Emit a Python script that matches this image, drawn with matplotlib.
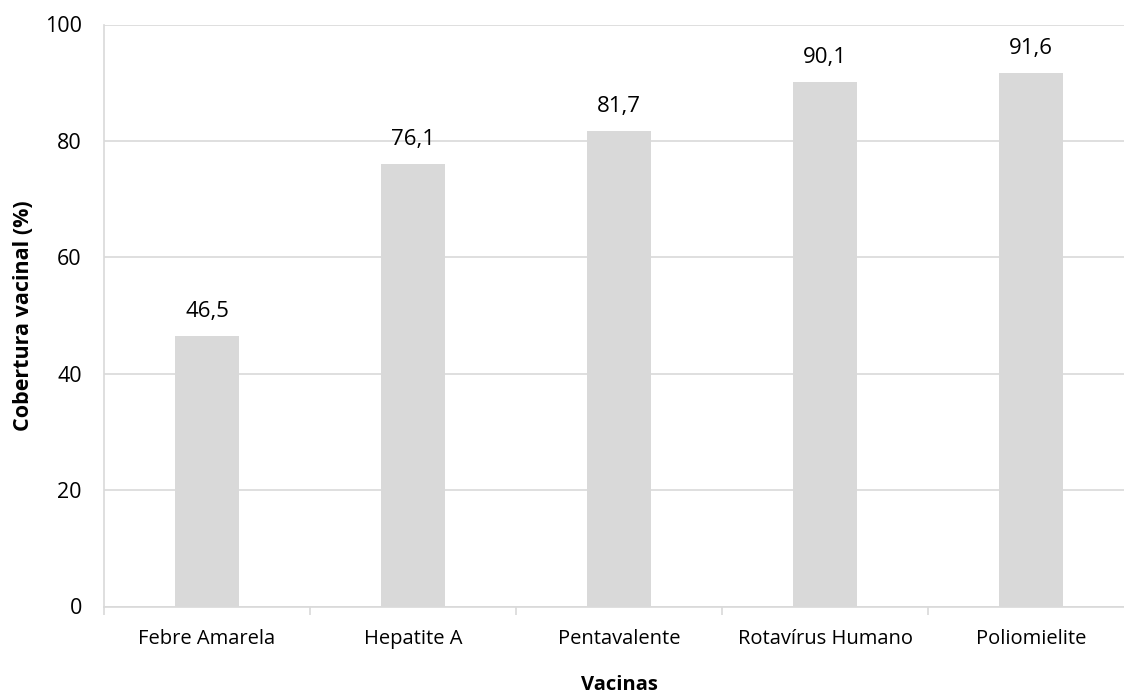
import matplotlib
matplotlib.use("Agg")
import matplotlib.pyplot as plt
import numpy as np

categories = ["Febre Amarela", "Hepatite A", "Pentavalente", "Rotavírus Humano", "Poliomielite"]
coverage = [46.5, 76.1, 81.7, 90.1, 91.6]
y_ticks = [0, 20, 40, 60, 80, 100]

plt.rcParams["font.family"] = ["Open Sans", "DejaVu Sans"]

W, H = 1124, 695
fig = plt.figure(figsize=(W / 100, H / 100), dpi=100)
ax = fig.add_axes([104 / W, 88.5 / H, 1030 / W, 582 / H])

x = np.arange(len(categories))
ax.bar(x, coverage, width=0.31, color="#D9D9D9", zorder=2)

for xi, v in zip(x, coverage):
    ax.annotate(f"{v:.1f}".replace(".", ","), (xi, v), xytext=(0, 10),
                textcoords="offset points", ha="center", va="bottom",
                fontsize=16, color="#000000")

ax.set_xlim(-0.5, len(categories) - 0.5)
ax.set_ylim(0, 100)
ax.set_yticks(y_ticks)
ax.set_yticklabels([str(t) for t in y_ticks], fontsize=15.5)
ax.yaxis.grid(True, color="#D9D9D9", linewidth=1.2, zorder=0)
ax.tick_params(axis="y", length=0, pad=16)

ax.set_xticks(x)
ax.set_xticklabels(categories, fontsize=14.5)
ax.set_xticks(np.arange(-0.5, len(categories)), minor=True)
ax.tick_params(axis="x", which="major", length=0, pad=16)
ax.tick_params(axis="x", which="minor", length=6, width=1.2, color="#D9D9D9")

for side in ("top", "right"):
    ax.spines[side].set_visible(False)
for side in ("left", "bottom"):
    ax.spines[side].set_color("#D9D9D9")
    ax.spines[side].set_linewidth(1.2)

ax.set_xlabel("Vacinas", fontsize=14.5, fontweight="bold", labelpad=19)
ax.set_ylabel("Cobertura vacinal (%)", fontsize=15.5, fontweight="bold", labelpad=8)

fig.savefig("out.png", dpi=100)
